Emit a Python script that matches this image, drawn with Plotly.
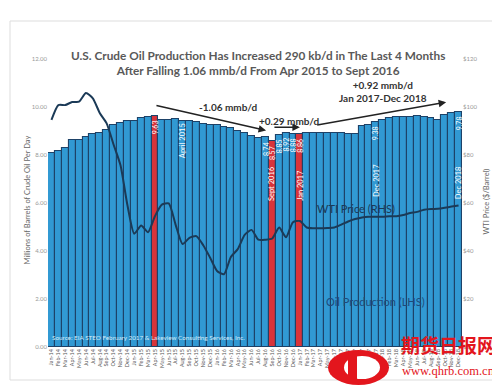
import plotly.graph_objects as go

# ---------------- data ----------------
month_names = ["Jan", "Feb", "Mar", "Apr", "May", "Jun", "Jul", "Aug", "Sep", "Oct", "Nov", "Dec"]
years = ["14", "15", "16", "17", "18"]
months = [f"{m}-{y}" for y in years for m in month_names]

oil_production = [
    8.08, 8.15, 8.29, 8.64, 8.64, 8.74, 8.87, 8.92, 9.06, 9.26, 9.33, 9.40,
    9.40, 9.54, 9.57, 9.63, 9.47, 9.47, 9.50, 9.43, 9.43, 9.38, 9.29, 9.24,
    9.24, 9.15, 9.12, 8.99, 8.92, 8.78, 8.71, 8.74, 8.57, 8.85, 8.92, 8.88,
    8.86, 8.92, 8.92, 8.92, 8.92, 8.90, 8.92, 8.88, 8.86, 9.19, 9.25, 9.38,
    9.44, 9.54, 9.58, 9.60, 9.60, 9.62, 9.60, 9.55, 9.47, 9.66, 9.76, 9.78,
]

wti_price = [
    94.6, 100.8, 100.8, 102.1, 102.2, 105.8, 103.6, 97.5, 93.2, 84.4, 75.8, 59.3,
    47.2, 50.6, 47.8, 54.5, 59.3, 59.8, 50.9, 42.9, 45.5, 46.2, 42.4, 37.2,
    31.7, 30.3, 37.5, 40.8, 46.7, 48.8, 44.7, 44.7, 45.2, 49.8, 45.7, 52.0,
    52.5, 49.8, 49.5, 49.5, 49.6, 49.8, 51.0, 52.3, 53.3, 54.0, 54.3, 54.3,
    54.3, 54.5, 54.5, 55.0, 55.8, 56.3, 57.2, 57.5, 57.6, 58.0, 58.5, 59.0,
]

highlight_months = ["Apr-15", "Sep-16", "Jan-17"]
value_labels = {"Apr-15": "9.63", "Aug-16": "8.74", "Sep-16": "8.57", "Oct-16": "8.85",
                "Nov-16": "8.92", "Dec-16": "8.88", "Jan-17": "8.86", "Dec-17": "9.38",
                "Dec-18": "9.78"}
date_labels = [("Aug-15", "April 2015", 8.6), ("Sep-16", "Sept 2016", 6.8),
               ("Jan-17", "Jan 2017", 6.75), ("Dec-17", "Dec 2017", 6.95),
               ("Dec-18", "Dec 2018", 6.85)]

left_ticks = [0, 2, 4, 6, 8, 10, 12]
right_ticks = [0, 20, 40, 60, 80, 100, 120]
right_tick_text = [f"${v}" for v in right_ticks]

# ---------------- geometry helpers ----------------
W_FIG, H_FIG = 500, 388
L, R, T, B = 40, 454, 51, 339
PW, PH = R - L, B - T


def px(X):
    return (X - L) / PW


def py(Y):
    return (B - Y) / PH


idx = {m: i for i, m in enumerate(months)}
xs = list(range(len(months)))

BLUE = "#3199d3"
RED = "#d8343a"
NAVY = "#1b3a57"

bar_colors = [RED if m in highlight_months else BLUE for m in months]

fig = go.Figure()
fig.add_trace(go.Bar(
    x=xs, y=oil_production, marker=dict(color=bar_colors, line=dict(color="#1d4268", width=1.1)),
    hoverinfo="skip", showlegend=False,
))
fig.add_trace(go.Scatter(
    x=xs, y=wti_price, yaxis="y2", mode="lines",
    line=dict(color=NAVY, width=2, shape="spline", smoothing=0.6),
    hoverinfo="skip", showlegend=False,
))

ann = []
# title
ann.append(dict(xref="paper", yref="paper", x=px(250), y=py(38), showarrow=False,
                text="<b>U.S. Crude Oil Production Has Increased 290 kb/d in The Last 4 Months<br>"
                     "After Falling 1.06 mmb/d From Apr 2015 to Sept 2016</b>",
                font=dict(family="Lato", size=11.8, color="#595959"), align="center"))

# value labels inside bars
for m, t in value_labels.items():
    ann.append(dict(x=idx[m], y=oil_production[idx[m]] - 0.48, xref="x", yref="y", text=t,
                    textangle=-90, showarrow=False, font=dict(family="Lato", size=7, color="white")))
for m, t, yv in date_labels:
    ann.append(dict(x=idx[m], y=yv, xref="x", yref="y", text=t, textangle=-90, showarrow=False,
                    font=dict(family="Lato", size=7.5, color="white")))

# trend arrows
a_s, s_s, j_s, d_s = idx["Apr-15"], idx["Sep-16"], idx["Jan-17"], idx["Dec-18"]
arrow_style = dict(showarrow=True, arrowhead=2, arrowsize=1, arrowwidth=1.5, arrowcolor="#222",
                   xref="x", yref="y", axref="x", ayref="y", text="")
ann.append(dict(x=s_s - 0.9, y=oil_production[s_s] + 0.45, ax=a_s, ay=oil_production[a_s] + 0.45, **arrow_style))
ann.append(dict(x=j_s, y=oil_production[j_s] + 0.3, ax=s_s + 0.1, ay=oil_production[j_s] + 0.3, **arrow_style))
ann.append(dict(x=d_s - 1.8, y=oil_production[d_s] + 0.42, ax=j_s + 2.3, ay=oil_production[j_s] + 0.38, **arrow_style))

ann.append(dict(x=25.6, y=9.98, xref="x", yref="y", text="<b>-1.06 mmb/d</b>", showarrow=False,
                font=dict(family="Lato", size=10, color="#333")))
ann.append(dict(x=34.4, y=9.43, xref="x", yref="y", text="<b>+0.29 mmb/d</b>", showarrow=False,
                font=dict(family="Lato", size=10, color="#333")))
ann.append(dict(x=48.0, y=10.65, xref="x", yref="y", text="<b>+0.92 mmb/d<br>Jan 2017-Dec 2018</b>",
                showarrow=False, font=dict(family="Lato", size=10, color="#333")))

# series labels
ann.append(dict(x=44.1, y=57.9, xref="x", yref="y2", text="WTI Price (RHS)", showarrow=False,
                font=dict(family="Lato", size=11, color=NAVY)))
ann.append(dict(x=47.0, y=1.9, xref="x", yref="y", text="Oil Production (LHS)", showarrow=False,
                font=dict(family="Lato", size=11, color="#1f4a7a")))

# source
ann.append(dict(xref="paper", yref="paper", x=px(42), y=py(335), xanchor="left", showarrow=False,
                text="Source: EIA STEO February 2017 & Lakeview Consulting Services, Inc.",
                font=dict(family="Lato", size=6.3, color="#d6ecf8")))

# axis titles
ann.append(dict(xref="paper", yref="paper", x=px(12), y=py(192), textangle=-90, showarrow=False,
                text="Millions of Barrels of Crude Oil Per Day",
                font=dict(family="Lato", size=7.5, color="#666")))
ann.append(dict(xref="paper", yref="paper", x=px(484), y=py(194), textangle=-90, showarrow=False,
                text="WTI Price ($/Barrel)", font=dict(family="Lato", size=7.5, color="#666")))

# watermark
ann.append(dict(xref="paper", yref="paper", x=px(490), y=py(352), xanchor="right", showarrow=False,
                text="<b>期货日报网</b>", font=dict(family="Noto Sans CJK SC", size=19, color="#e3161d")))
ann.append(dict(xref="paper", yref="paper", x=px(489), y=py(372), xanchor="right", showarrow=False,
                text="www.qhrb.com.cn", font=dict(family="Liberation Serif", size=12.5, color="#e3161d")))

shapes = [
    dict(type="rect", xref="paper", yref="paper", x0=px(2), x1=px(497), y0=py(372), y1=py(13),
         line=dict(color="#dddddd", width=1), fillcolor="rgba(0,0,0,0)", layer="below"),
    dict(type="circle", xref="paper", yref="paper", x0=px(320), x1=px(381), y0=py(377), y1=py(342),
         line=dict(width=0), fillcolor="#e3161d", layer="above"),
    dict(type="circle", xref="paper", yref="paper", x0=px(336), x1=px(372), y0=py(371), y1=py(348),
         line=dict(width=0), fillcolor="white", layer="above"),
    dict(type="rect", xref="paper", yref="paper", x0=px(340), x1=px(349), y0=py(375), y1=py(344),
         line=dict(width=0), fillcolor="#e3161d", layer="above"),
]

fig.update_layout(
    width=W_FIG, height=H_FIG,
    margin=dict(l=L, r=W_FIG - R, t=T, b=H_FIG - B, pad=0),
    paper_bgcolor="white", plot_bgcolor="white",
    bargap=0.0,
    annotations=ann, shapes=shapes,
    xaxis=dict(range=[-0.5, len(months) - 0.5], tickmode="array", tickvals=xs, ticktext=months,
               tickangle=-90, tickfont=dict(family="Lato", size=5.5, color="#555"),
               showgrid=False, zeroline=False, showline=False, ticks=""),
    yaxis=dict(range=[0, 12], tickvals=left_ticks, tickformat=".2f", showgrid=False, zeroline=False,
               tickfont=dict(family="Lato", size=6, color="#999")),
    yaxis2=dict(range=[0, 120], tickmode="array", tickvals=right_ticks, ticktext=right_tick_text,
                overlaying="y", side="right",
                showgrid=False, zeroline=False, tickfont=dict(family="Lato", size=6, color="#999")),
)

fig.write_html("out.html")
